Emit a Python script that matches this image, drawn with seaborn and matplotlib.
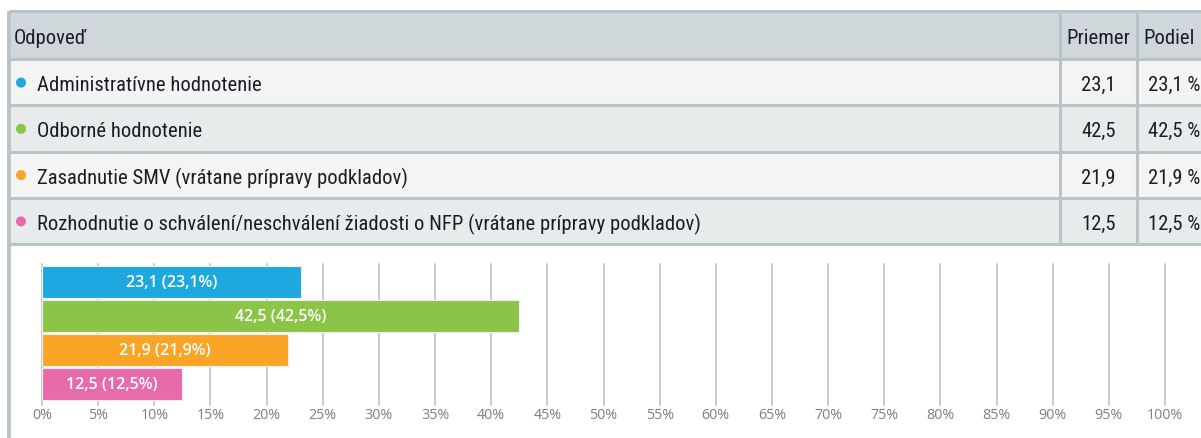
import matplotlib
matplotlib.use("Agg")
import matplotlib.pyplot as plt
import seaborn as sns
import pandas as pd
from matplotlib.patches import Rectangle, Circle

# ---- data ----
categories = [
    "Administratívne hodnotenie",
    "Odborné hodnotenie",
    "Zasadnutie SMV (vrátane prípravy podkladov)",
    "Rozhodnutie o schválení/neschválení žiadosti o NFP (vrátane prípravy podkladov)",
]
priemer = [23.1, 42.5, 21.9, 12.5]
podiel = [23.1, 42.5, 21.9, 12.5]
colors = ["#1fa8e0", "#8bc447", "#fba527", "#e76ba8"]
header = ["Odpoveď", "Priemer", "Podiel"]
xticks = list(range(0, 101, 5))


def fmt(v):
    return f"{v:.1f}".replace(".", ",")


sns.set_theme(style="white")
plt.rcParams['font.family'] = ['Open Sans', 'DejaVu Sans']

W, H = 1201, 439
fig = plt.figure(figsize=(W / 100, H / 100), dpi=100)
fig.patch.set_facecolor("white")

# ---- table (pixel coordinate overlay) ----
tab = fig.add_axes([0, 0, 1, 1], zorder=0)
tab.set_xlim(0, W)
tab.set_ylim(H, 0)
tab.axis("off")

border = "#b9c4c8"
hdr_bg = "#cfd7db"
row_bgs = ["#f4f4f4", "#e8ebec", "#f4f4f4", "#e8ebec"]
top, hdr_h, row_h = 12, 48, 46.25
x0, c1, c2, x3 = 9, 1060, 1137, 1210

tab.add_patch(Rectangle((x0, top), x3 - x0, hdr_h, facecolor=hdr_bg, edgecolor="none"))
for i in range(len(categories)):
    y = top + hdr_h + i * row_h
    tab.add_patch(Rectangle((x0, y), x3 - x0, row_h, facecolor=row_bgs[i], edgecolor="none"))

ybottom = top + hdr_h + len(categories) * row_h
for k in range(len(categories) + 2):
    y = top if k == 0 else top + hdr_h + (k - 1) * row_h
    tab.plot([x0, x3], [y, y], color=border, lw=2.2, solid_capstyle="butt")
tab.plot([x0, x0], [top, H], color=border, lw=2.8, solid_capstyle="butt")
for xc in (c1, c2):
    tab.plot([xc, xc], [top, ybottom], color=border, lw=2.2, solid_capstyle="butt")

tfont = dict(family=['Roboto Condensed', 'Roboto', 'DejaVu Sans'], fontsize=14.9, color="#1c1c28")
dy = 2.5
yc = top + hdr_h / 2 + dy
tab.text(14, yc, header[0], ha="left", va="center", **tfont)
tab.text((c1 + c2) / 2, yc, header[1], ha="center", va="center", **tfont)
tab.text(c2 + 6, yc, header[2], ha="left", va="center", **tfont)
for i, cat in enumerate(categories):
    yc = top + hdr_h + (i + 0.5) * row_h
    tab.add_patch(Circle((21, yc + 0.5), 5, facecolor=colors[i], edgecolor="none"))
    tab.text(37, yc + dy, cat, ha="left", va="center", **tfont)
    tab.text(c2 - 21, yc + dy, fmt(priemer[i]), ha="right", va="center", **tfont)
    tab.text(x3 - 10, yc + dy, fmt(podiel[i]) + " %", ha="right", va="center", **tfont)

# ---- bar chart ----
left_px, right_px = 42, 1165
top_px, bot_px = 266, 402
ax = fig.add_axes([left_px / W, 1 - bot_px / H, (right_px - left_px) / W, (bot_px - top_px) / H], zorder=1)
ax.patch.set_alpha(0)

df = pd.DataFrame({"cat": categories, "val": podiel})
sns.barplot(data=df, x="val", y="cat", hue="cat", palette=colors, orient="h", saturation=1,
            width=0.95, edgecolor="#f0f0f0", linewidth=0.8, legend=False, ax=ax, zorder=3)

ax.set_xlim(0, 100)
ax.set_ylim(len(categories) - 0.5, -0.5)
ax.set_xticks(xticks)
ax.set_xticklabels([f"{t}%" for t in xticks], color="#7f7f7f", fontsize=10.3)
ax.set_yticks([])
ax.set_xlabel("")
ax.set_ylabel("")
for s in ax.spines.values():
    s.set_visible(False)
ax.tick_params(axis="x", length=0, pad=4)
for t in xticks:
    ax.axvline(t, ymin=-0.03, ymax=1.01, color="#cccccc", lw=1.5, zorder=1, clip_on=False)

for i, cont in enumerate(ax.containers):
    ax.bar_label(cont, labels=[f"{fmt(priemer[i])} ({fmt(podiel[i])}%)"], label_type="center",
                 color="white", fontsize=11.5, fontweight="semibold")

fig.savefig("out.png", dpi=100, facecolor="white")
